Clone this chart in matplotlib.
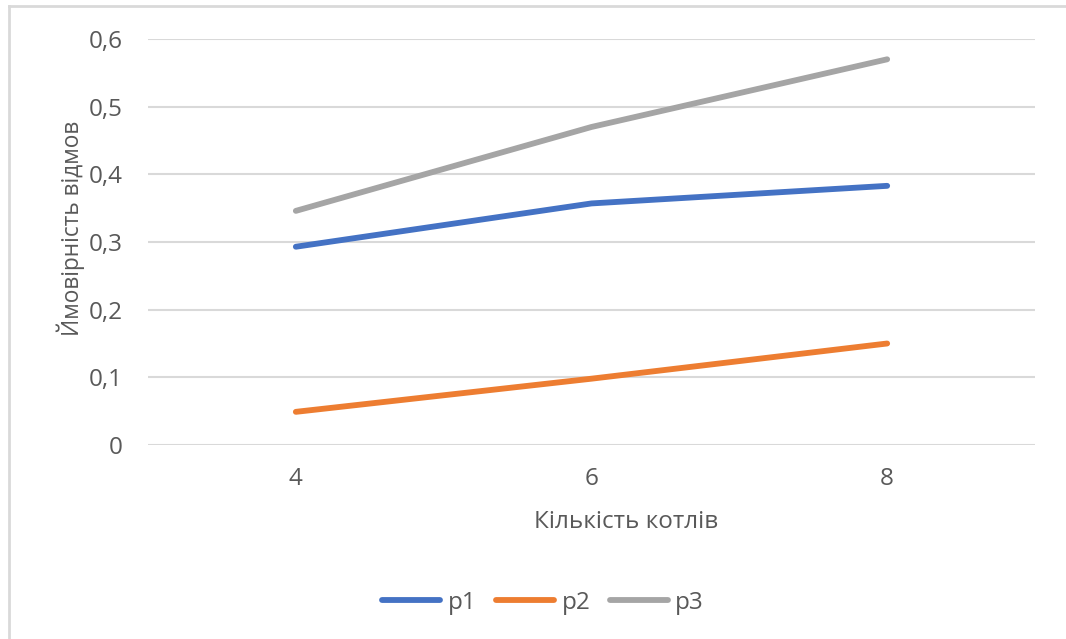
import matplotlib
matplotlib.use("Agg")
import matplotlib.pyplot as plt
from matplotlib.lines import Line2D

plt.rcParams['font.family'] = ['Open Sans', 'DejaVu Sans']

boilers = [4, 6, 8]
p1 = [0.293, 0.357, 0.383]
p2 = [0.049, 0.098, 0.150]
p3 = [0.346, 0.470, 0.570]
series_names = ['p1', 'p2', 'p3']
series_colors = ['#4472C4', '#ED7D31', '#A5A5A5']
y_ticks = [0, 0.1, 0.2, 0.3, 0.4, 0.5, 0.6]
y_labels = ['0', '0,1', '0,2', '0,3', '0,4', '0,5', '0,6']

W, H = 1066, 639
fig = plt.figure(figsize=(W / 100, H / 100), dpi=100)
ax = fig.add_axes([148 / W, 1 - 445 / H, (1035 - 148) / W, (445 - 39) / H])

text_color = '#595959'
grid_color = '#D9D9D9'
fs = 17.5

for vals, name, col in zip([p1, p2, p3], series_names, series_colors):
    ax.plot(boilers, vals, color=col, lw=4.2, solid_capstyle='round',
            solid_joinstyle='round', label=name, zorder=3)

ax.set_xlim(3, 9)
ax.set_ylim(0, 0.6)
ax.set_yticks(y_ticks)
ax.set_yticklabels(y_labels)
ax.set_xticks(boilers)
ax.set_xticklabels([str(b) for b in boilers])
for y in y_ticks:
    ax.axhline(y, color=grid_color, lw=1.5, zorder=1)

for s in ax.spines.values():
    s.set_visible(False)
ax.tick_params(axis='both', length=0, labelsize=fs, colors=text_color)
ax.tick_params(axis='y', pad=18)
ax.tick_params(axis='x', pad=16)

fig.text(71 / W, 1 - 228 / H, 'Ймовірність відмов', rotation=90,
         ha='center', va='center', fontsize=16.3, color=text_color)
fig.text(626 / W, 1 - 522 / H, 'Кількість котлів',
         ha='center', va='center', fontsize=fs, color=text_color)

handles = [Line2D([0], [0], color=c, lw=4.2, solid_capstyle='round')
           for c in series_colors]
fig.legend(handles, series_names, loc='center', bbox_to_anchor=(543 / W, 1 - 603 / H),
           ncol=3, frameon=False, fontsize=fs, labelcolor=text_color,
           handlelength=2.4, handletextpad=0.3, columnspacing=0.8)

# chart area frame (top and left edges)
fig.add_artist(Line2D([9 / W, 1], [1 - 6 / H, 1 - 6 / H], color=grid_color, lw=2,
                      transform=fig.transFigure))
fig.add_artist(Line2D([9 / W, 9 / W], [0, 1 - 6 / H], color=grid_color, lw=2,
                      transform=fig.transFigure))

fig.savefig('out.png', dpi=100, facecolor='white')
